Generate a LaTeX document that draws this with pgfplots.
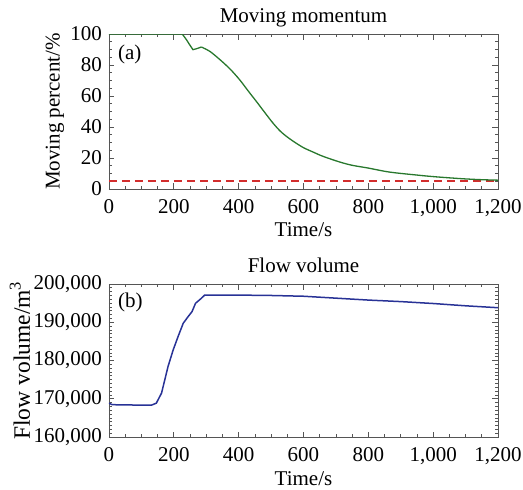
\documentclass[border=0pt]{standalone}
\usepackage{fontspec}
\setmainfont{Liberation Serif}
\usepackage{pgfplots}
\pgfplotsset{compat=1.18}
\definecolor{axgray}{RGB}{85,85,85}
\definecolor{lgreen}{RGB}{40,120,45}
\definecolor{lblue}{RGB}{40,50,150}
\definecolor{lred}{RGB}{210,45,45}
\newcommand{\ff}{\fontsize{21}{24}\selectfont}
\begin{document}
\begin{tikzpicture}
\useasboundingbox (-109pt,-301pt) rectangle (414pt,189pt);
\pgfplotsset{
  myax/.style={
    scale only axis, width=389pt,
    xmin=0, xmax=1200,
    xtick={0,200,400,600,800,1000,1200},
    xticklabels={0,200,400,600,800,{1,000},{1,200}},
    minor x tick num=3,
    tick align=inside,
    axis line style={axgray, line width=0.9pt},
    every tick/.style={axgray, line width=0.7pt},
    major tick length=5.5pt, minor tick length=3pt,
    tick label style={font=\ff, text=black},
    xticklabel style={anchor=base, yshift=-24pt},
    yticklabel style={anchor=east, inner xsep=7pt},
    every axis x label/.style={at={(axis description cs:0.5,0)}, anchor=base, yshift=-48pt, font=\ff},
    every axis title/.style={at={(axis description cs:0.5,1)}, anchor=base, yshift=11.5pt, font=\ff},
    xlabel={Time/s},
    scaled ticks=false,
  }
}
\begin{axis}[myax, at={(0,0)}, anchor=south west,
  height=155pt, ymin=0, ymax=100, ytick={0,20,40,60,80,100},
  yticklabels={0,20,40,60,80,100}, minor y tick num=3,
  every axis y label/.style={at={(axis description cs:-0.139,0.5)}, rotate=90, anchor=center, font=\ff},
  ylabel={Moving percent/\%}, title={Moving momentum}]
\addplot[draw=lred, line width=1.5pt, dash pattern={on 8pt off 5pt}, mark=none] coordinates {(0,5) (300,5) (600,5) (900,5) (1200,5)};
\addplot[draw=lgreen, line width=1.3pt, mark=none] coordinates {
(0,100) (226,100) (239,96.3) (249,93) (259,89.9) (270,90.5) (285,91.6)};
\addplot[draw=lgreen, line width=1.3pt, mark=none, smooth, tension=0.5] coordinates {
(285,91.6) (311,88.8)
(342,83.5) (373,77.5) (403,70.5) (434,62) (455,56.4) (480,49.5) (506,42.5) (530,37)
(558,32.3) (597,27) (630,23.8) (661,21) (712,17.4) (750,15.3) (800,13.5) (866,10.9)
(959,8.8) (1000,8) (1050,7.2) (1100,6.5) (1150,6) (1200,5.7)};
\node[anchor=west, inner sep=0pt, font=\ff] at (rel axis cs:0.023,0.87) {(a)};
\end{axis}
\begin{axis}[myax, at={(0,-248pt)}, anchor=south west,
  height=153pt, ymin=160000, ymax=200000, ytick={160000,170000,180000,190000,200000},
  yticklabels={{160,000},{170,000},{180,000},{190,000},{200,000}}, minor y tick num=9,
  every axis y label/.style={at={(axis description cs:-0.229,0.5)}, rotate=90, anchor=center, font=\fontsize{23.5}{26}\selectfont},
  ylabel={Flow volume/m\textsuperscript{3}}, title={Flow volume}]
\addplot[draw=lblue, line width=1.5pt, mark=none] coordinates {
(0,168850) (10,168450) (50,168380) (131,168330) (146,168850) (162,171460)
(172,174900) (182,178400) (198,182770) (213,186240) (229,189740) (244,191460)
(256,192770) (267,194960) (285,196270) (295,197100) (400,197100) (500,197000)
(600,196800) (700,196300) (800,195800) (900,195400) (1000,194900) (1100,194300) (1200,193800)};
\node[anchor=west, inner sep=0pt, font=\ff] at (rel axis cs:0.023,0.88) {(b)};
\end{axis}
\end{tikzpicture}
\end{document}
